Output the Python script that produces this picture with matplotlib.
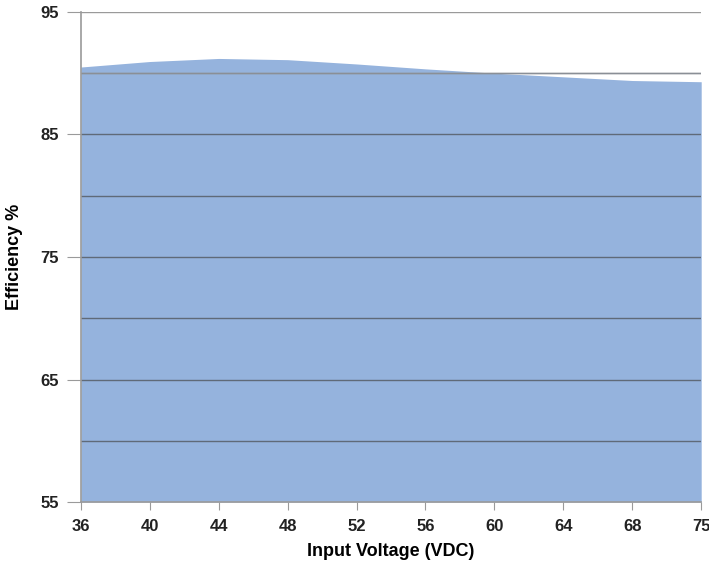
import matplotlib
matplotlib.use("Agg")
import matplotlib.pyplot as plt
import numpy as np

voltages = ["36", "40", "44", "48", "52", "56", "60", "64", "68", "75"]
efficiency = [90.5, 90.95, 91.2, 91.1, 90.75, 90.35, 90.0, 89.7, 89.4, 89.3]
y_ticks = [55, 65, 75, 85, 95]
grid_levels = [60, 65, 70, 75, 80, 85, 90, 95]

plt.rcParams['font.family'] = ['Liberation Sans', 'DejaVu Sans']
fig = plt.figure(figsize=(7.09, 5.66), dpi=100)
ax = fig.add_axes([0.114, 0.113, 0.875, 0.866])

x = np.arange(len(voltages))
ax.fill_between(x, 55, efficiency, color="#95b3dd", linewidth=0, zorder=1)
for g in grid_levels:
    ax.axhline(g, color="#5f6a78" if g < 90 else "#9a9a9a", lw=1.0, zorder=2)
ax.axhline(90, color="#8a8f96", lw=1.0, zorder=2)

ax.set_xlim(0, len(voltages) - 1)
ax.set_ylim(55, 95)
ax.set_xticks(x)
ax.set_xticklabels(voltages, fontsize=12, fontweight="bold", color="#222222")
ax.set_yticks(y_ticks)
ax.set_yticklabels([str(v) for v in y_ticks], fontsize=12, fontweight="bold", color="#222222")
ax.tick_params(axis="x", length=6, color="#9a9a9a", pad=6)
ax.tick_params(axis="y", length=10, color="#9a9a9a", pad=6)

for s in ["top", "right"]:
    ax.spines[s].set_visible(False)
for s in ["left", "bottom"]:
    ax.spines[s].set_color("#9a9a9a")
    ax.spines[s].set_linewidth(1.2)

fig.text(391 / 709, 1 - 552 / 566, "Input Voltage (VDC)", fontsize=13,
         fontweight="bold", ha="center", va="center")
fig.text(15 / 709, 1 - 257 / 566, "Efficiency %", fontsize=13,
         fontweight="bold", ha="center", va="center", rotation=90)

fig.savefig("out.png", dpi=100)
